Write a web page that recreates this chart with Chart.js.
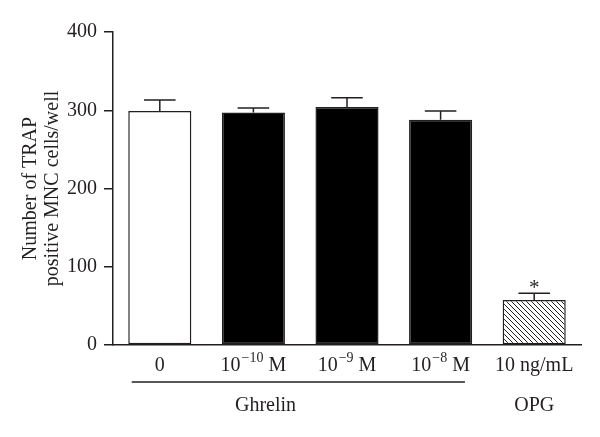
<!DOCTYPE html>
<html>
<head>
<meta charset="utf-8">
<script src="https://cdn.jsdelivr.net/npm/chart.js@4"></script>
<style>
html, body { margin: 0; padding: 0; background: #fff; }
#wrap { width: 600px; height: 437px; }
</style>
</head>
<body>
<div id="wrap"><canvas id="trapChart"></canvas></div>
<script>
// DATA
// "^{...}" marks a superscript in a label
let labels = ['0', '10^{\u221210} M', '10^{\u22129} M', '10^{\u22128} M', '10 ng/mL'];
let means = [299, 297, 304, 288, 57.5];
let sems = [14, 6, 12, 11, 8.5];
let starred = [false, false, false, false, true];
let yTitle = ['Number of TRAP', 'positive MNC cells/well'];
let groups = ['Ghrelin', 'OPG'];

let ink = '#231f20';
let serif = '"Liberation Serif", "DejaVu Serif", serif';

// hatch for the OPG bar
function hatch() {
    let c = document.createElement('canvas');
    c.width = 5;
    c.height = 5;
    let g = c.getContext('2d');
    g.fillStyle = '#fff';
    g.fillRect(0, 0, 5, 5);
    g.strokeStyle = ink;
    g.lineWidth = 1;
    g.beginPath();
    g.moveTo(-1, -1); g.lineTo(6, 6);
    g.moveTo(-1, 4); g.lineTo(1, 6);
    g.moveTo(4, -1); g.lineTo(6, 1);
    g.stroke();
    return g.createPattern(c, 'repeat');
}

function plain(label) {
    return label.replace(/\^\{|\}/g, '');
}

let ct = document.querySelector('#trapChart').getContext('2d');
let fills = ['#fff', '#000', '#000', '#000', hatch()];

// error bars + asterisk
let errorBars = {
    id: 'errorBars',
    afterDatasetsDraw(chart) {
        let ctx = chart.ctx;
        let y = chart.scales.y;
        let meta = chart.getDatasetMeta(0);
        ctx.save();
        ctx.strokeStyle = ink;
        ctx.fillStyle = ink;
        ctx.lineWidth = 1.5;
        ctx.font = '21px ' + serif;
        ctx.textAlign = 'center';
        ctx.textBaseline = 'alphabetic';
        meta.data.forEach((bar, i) => {
            let top = y.getPixelForValue(means[i] + sems[i]);
            let half = bar.width / 4;
            ctx.beginPath();
            ctx.moveTo(bar.x, bar.y);
            ctx.lineTo(bar.x, top);
            ctx.moveTo(bar.x - half, top);
            ctx.lineTo(bar.x + half, top);
            ctx.stroke();
            if (starred[i]) {
                ctx.fillText('*', bar.x, top + 1);
            }
        });
        ctx.restore();
    }
};

// x labels with superscripts, group bracket and group labels
let groupLabels = {
    id: 'groupLabels',
    afterDraw(chart) {
        let ctx = chart.ctx;
        let x = chart.scales.x;
        let base = x.top;
        let big = '20px ' + serif;
        let small = '14px ' + serif;
        ctx.save();
        ctx.strokeStyle = ink;
        ctx.fillStyle = ink;
        ctx.textBaseline = 'alphabetic';
        ctx.textAlign = 'left';

        labels.forEach((label, i) => {
            let parts = label.split(/\^\{|\}/);
            let widths = parts.map((p, k) => {
                ctx.font = k % 2 ? small : big;
                return ctx.measureText(p).width + (k % 2 ? 1 : 0);
            });
            let total = widths.reduce((a, b) => a + b, 0);
            let px = x.getPixelForValue(i) - total / 2;
            parts.forEach((p, k) => {
                ctx.font = k % 2 ? small : big;
                ctx.fillText(p, px + (k % 2 ? 1 : 0), base + 26 - (k % 2 ? 9 : 0));
                px += widths[k];
            });
        });

        ctx.lineWidth = 1.5;
        ctx.beginPath();
        ctx.moveTo(x.getPixelForValue(-0.3), base + 37);
        ctx.lineTo(x.getPixelForValue(3.26), base + 37);
        ctx.stroke();

        ctx.font = big;
        ctx.textAlign = 'center';
        ctx.textBaseline = 'middle';
        ctx.fillText(groups[0], x.getPixelForValue(1.13), base + 61);
        ctx.fillText(groups[1], x.getPixelForValue(4), base + 61);
        ctx.restore();
    }
};

let trapChart = new Chart(ct, {
    type: 'bar',
    data: {
        labels: labels.map(plain),
        datasets: [{
            data: means,
            backgroundColor: fills,
            borderColor: ink,
            borderWidth: 1.5,
            borderSkipped: false,
            categoryPercentage: 1,
            barPercentage: 0.674
        }]
    },
    options: {
        responsive: true,
        maintainAspectRatio: false,
        animation: false,
        layout: { padding: { left: 0, right: 19, top: 32, bottom: 0 } },
        plugins: {
            legend: { display: false },
            tooltip: { enabled: false }
        },
        scales: {
            x: {
                grid: { display: false, drawTicks: false },
                border: { display: true, color: ink, width: 1.5 },
                ticks: { display: false },
                afterFit(scale) { scale.height = 92; }
            },
            y: {
                min: 0,
                max: 400,
                grid: { drawOnChartArea: false, drawTicks: true, tickLength: 9, color: ink, lineWidth: 1.5 },
                border: { display: true, color: ink, width: 1.5 },
                ticks: { stepSize: 100, color: ink, padding: 7, font: { family: serif, size: 20 } },
                title: {
                    display: true,
                    text: yTitle,
                    color: ink,
                    padding: { top: 20, bottom: 0 },
                    font: { family: serif, size: 20, lineHeight: 1.1 }
                },
                afterFit(scale) { scale.width = 113; }
            }
        }
    },
    plugins: [errorBars, groupLabels]
});
</script>
</body>
</html>
